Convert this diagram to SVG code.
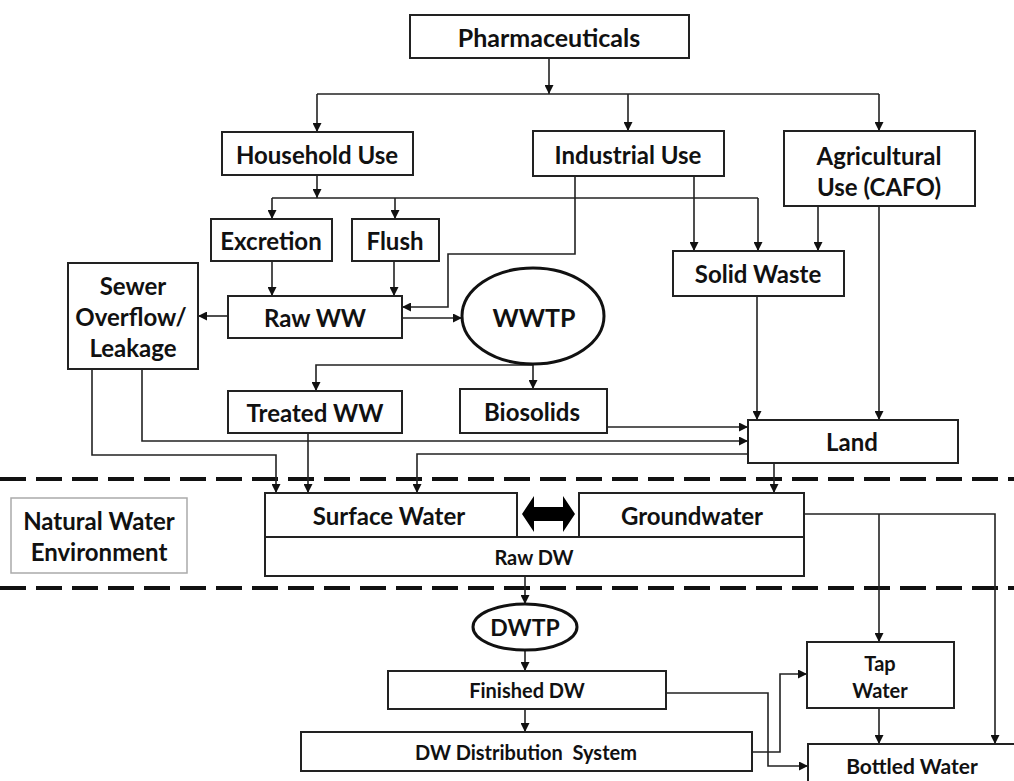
<svg xmlns="http://www.w3.org/2000/svg" width="1014" height="781" viewBox="0 0 1014 781">
<style>
.box{fill:#fff;stroke:#222;stroke-width:2}
.ell{fill:#fff;stroke:#111;stroke-width:3}
.t{font-family:Lato,"Liberation Sans",sans-serif;font-weight:700;fill:#111;text-anchor:middle;dominant-baseline:central;font-size:24px}
.s{font-size:20px}
.c{fill:none;stroke:#222;stroke-width:1.6}
.a{marker-end:url(#ah)}
.dash{stroke:#111;stroke-width:4;stroke-dasharray:26 10;fill:none}
</style>
<defs>
<marker id="ah" markerUnits="userSpaceOnUse" markerWidth="9" markerHeight="9" refX="9" refY="4.5" orient="auto">
<path d="M0,0 L9,4.5 L0,9 z" fill="#111"/>
</marker>
</defs>
<rect width="1014" height="781" fill="#fff"/>
<g id="dashes">
<line class="dash" x1="0" y1="479" x2="1014" y2="479"/>
<line class="dash" x1="0" y1="588" x2="1014" y2="588"/>
</g>
<g id="connectors">
<path class="c a" d="M549,58 V94"/>
<path class="c" d="M317,94 H879"/>
<path class="c a" d="M317,94 V132"/>
<path class="c a" d="M628,94 V131"/>
<path class="c a" d="M879,94 V131"/>
<path class="c a" d="M317,175 V198"/>
<path class="c" d="M272,198 H758"/>
<path class="c a" d="M272,198 V219"/>
<path class="c a" d="M395,198 V219"/>
<path class="c a" d="M758,198 V251"/>
<path class="c a" d="M272,261 V296"/>
<path class="c a" d="M394,261 V296"/>
<path class="c a" d="M575,176 V254 H448 V307 H402"/>
<path class="c a" d="M694,176 V251"/>
<path class="c a" d="M818,206 V251"/>
<path class="c a" d="M879,206 V420"/>
<path class="c a" d="M228,316 H198"/>
<path class="c a" d="M402,318 H462"/>
<path class="c a" d="M533,365 H316 V391"/>
<path class="c a" d="M533,365 V389"/>
<path class="c a" d="M757,296 V420"/>
<path class="c a" d="M607,427 H748"/>
<path class="c a" d="M142,369 V441 H748"/>
<path class="c a" d="M92,369 V455 H276 V493"/>
<path class="c a" d="M308,433 V493"/>
<path class="c a" d="M748,454 H417 V493"/>
<path class="c a" d="M774,463 V493"/>
<path class="c a" d="M525,576 V604"/>
<path class="c a" d="M525,650 V671"/>
<path class="c a" d="M525,709 V732"/>
<path class="c a" d="M666,693 H768 V766 H808"/>
<path class="c a" d="M752,752 H780 V674 H807"/>
<path class="c a" d="M804,514 H995 V744"/>
<path class="c a" d="M879,514 V642"/>
<path class="c a" d="M879,708 V744"/>
<polygon points="522,514 534,496 534,507 563,507 563,496 575,514 563,532 563,521 534,521 534,532" fill="#000"/>
</g>
<g id="pharmaceuticals"><rect class="box" x="410" y="15" width="279" height="43"/><text class="t" x="549" y="37" style="font-size:25px">Pharmaceuticals</text></g>
<g id="household"><rect class="box" x="222" y="132" width="191" height="43"/><text class="t" x="317" y="154">Household Use</text></g>
<g id="industrial"><rect class="box" x="533" y="131" width="191" height="45"/><text class="t" x="628" y="154">Industrial Use</text></g>
<g id="agricultural"><rect class="box" x="784" y="131" width="191" height="75"/><text class="t" x="879" y="155">Agricultural</text><text class="t" x="879" y="186">Use (CAFO)</text></g>
<g id="excretion"><rect class="box" x="211" y="219" width="121" height="42"/><text class="t" x="271" y="240">Excretion</text></g>
<g id="flush"><rect class="box" x="352" y="219" width="87" height="42"/><text class="t" x="395" y="240">Flush</text></g>
<g id="sewer"><rect class="box" x="68" y="263" width="130" height="106"/><text class="t" x="133" y="285">Sewer</text><text class="t" x="131" y="316">Overflow/</text><text class="t" x="133" y="347">Leakage</text></g>
<g id="rawww"><rect class="box" x="228" y="296" width="174" height="42"/><text class="t" x="315" y="317">Raw WW</text></g>
<g id="wwtp"><ellipse class="ell" cx="533" cy="316" rx="71" ry="48"/><text class="t" x="534" y="317" style="font-size:25px">WWTP</text></g>
<g id="solidwaste"><rect class="box" x="673" y="251" width="171" height="45"/><text class="t" x="758" y="273">Solid Waste</text></g>
<g id="treatedww"><rect class="box" x="228" y="391" width="174" height="42"/><text class="t" x="315" y="412">Treated WW</text></g>
<g id="biosolids"><rect class="box" x="460" y="389" width="147" height="44"/><text class="t" x="532" y="411">Biosolids</text></g>
<g id="land"><rect class="box" x="748" y="420" width="210" height="43"/><text class="t" x="852" y="441">Land</text></g>
<g id="naturalwater"><rect x="11" y="498" width="176" height="75" fill="#fff" stroke="#aaa" stroke-width="1.5"/><text class="t" x="99" y="520">Natural Water</text><text class="t" x="99" y="551">Environment</text></g>
<g id="surfacewater"><rect class="box" x="265" y="493" width="252" height="44"/><text class="t" x="389" y="515">Surface Water</text></g>
<g id="groundwater"><rect class="box" x="579" y="493" width="225" height="44"/><text class="t" x="692" y="515">Groundwater</text></g>
<g id="rawdw"><rect class="box" x="265" y="537" width="539" height="39"/><text class="t s" x="534" y="557">Raw DW</text></g>
<g id="dwtp"><ellipse class="ell" cx="525" cy="627" rx="52" ry="23"/><text class="t" x="525" y="627" style="font-size:23px">DWTP</text></g>
<g id="finisheddw"><rect class="box" x="388" y="671" width="278" height="38"/><text class="t s" x="527" y="690">Finished DW</text></g>
<g id="distribution"><rect class="box" x="301" y="732" width="451" height="39"/><text class="t s" x="526" y="752" xml:space="preserve">DW Distribution  System</text></g>
<g id="tapwater"><rect class="box" x="807" y="642" width="147" height="66"/><text class="t s" x="880" y="663">Tap</text><text class="t s" x="880" y="690">Water</text></g>
<g id="bottledwater"><rect class="box" x="808" y="744" width="215" height="50"/><text class="t" x="912" y="765" style="font-size:21px">Bottled Water</text></g>
</svg>
